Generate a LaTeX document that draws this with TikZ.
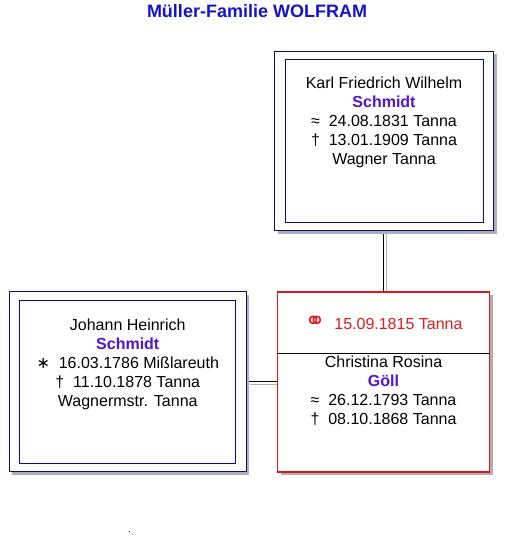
\documentclass[tikz,border=0pt]{standalone}
\usepackage{fontspec}
\setmainfont{Liberation Sans}
\newfontfamily\symfont{DejaVu Sans}
\usepackage{tikz}
\usetikzlibrary{positioning, shadows, backgrounds}
\definecolor{titleblue}{RGB}{20,20,205}
\definecolor{namepurple}{RGB}{80,20,220}
\definecolor{boxnavy}{RGB}{10,10,140}
\definecolor{spousered}{RGB}{215,25,25}
\definecolor{marriagered}{RGB}{220,30,30}
\definecolor{shadowgray}{RGB}{175,175,175}
\tikzstyle{box} = [rectangle, line width=1pt, fill=white, inner sep=0pt, minimum height=180pt, drop shadow={shadow xshift=3pt, shadow yshift=-3pt, fill=shadowgray, draw=none, opacity=1}]
\tikzstyle{person} = [box, draw=boxnavy]
\tikzstyle{spouse} = [box, draw=spousered, line width=1.5pt]
\tikzstyle{innerframe} = [draw=boxnavy, line width=1pt]
\tikzstyle{persontext} = [font=\fontsize{16}{19}\selectfont, align=center, inner sep=0pt]
\tikzstyle{link} = [draw=black, line width=1pt, preaction={draw=shadowgray, line width=1pt, transform canvas={shift={(3pt,-3pt)}}}]
\newcommand{\surname}[1]{\textcolor{namepurple}{\textbf{#1}}}
\newcommand{\ringsym}{\smash{\symfont\fontsize{25}{19}\selectfont ⚭}}
\newcommand{\birthsym}{{\symfont ∗}}

\begin{document}
\begin{tikzpicture}[x=1pt, y=-1pt]
    \useasboundingbox (0,0) rectangle (513,551);
    \node (title) [font=\fontsize{18}{22}\selectfont\bfseries, text=titleblue, anchor=base, inner sep=0pt] at (257,17.5) {Müller-Familie WOLFRAM};

    \node (karlbox) [person, minimum width=219pt, minimum height=179pt] at (384,141) {};
    \node (christinabox) [spouse, minimum width=212pt, below=60pt of karlbox, xshift=-0.5pt] {};
    \node (johannbox) [person, minimum width=237pt, left=30pt of christinabox] {};

    % double frame of the blue boxes
    \foreach \b in {karlbox, johannbox}
        \draw [innerframe] ([shift={(11pt,-9pt)}]\b.north west) rectangle ([shift={(-11pt,9pt)}]\b.south east);
    \draw ([yshift=-62pt]christinabox.north west) -- ([yshift=-62pt]christinabox.north east);

    \node (karltext) [persontext, below=26pt of karlbox.north] {Karl Friedrich Wilhelm\\ \surname{Schmidt}\\ ≈~~24.08.1831 Tanna\\ †~~13.01.1909 Tanna\\ Wagner Tanna};
    \node (johanntext) [persontext, below=27pt of johannbox.north] {Johann Heinrich\\ \surname{Schmidt}\\ \birthsym~~16.03.1786 Mißlareuth\\ †~~11.10.1878 Tanna\\ Wagnermstr. Tanna};
    \node (marriage) [persontext, text=marriagered, below=27pt of christinabox.north] {\ringsym~~15.09.1815 Tanna};
    \node (christinatext) [persontext, below=65pt of christinabox.north] {Christina Rosina\\ \surname{Göll}\\ ≈~~26.12.1793 Tanna\\ †~~08.10.1868 Tanna};

    \begin{scope}[on background layer]
        \draw [link] (christinabox.north |- karlbox.south) -- (christinabox.north);
        \draw [link] (johannbox.east) -- (christinabox.west);
    \end{scope}

    \coordinate (dot) at (129,531);
    \fill (dot) rectangle +(1,1);
    \fill [shadowgray] ([shift={(3pt,-3pt)}]dot) rectangle +(1,1);
\end{tikzpicture}
\end{document}
